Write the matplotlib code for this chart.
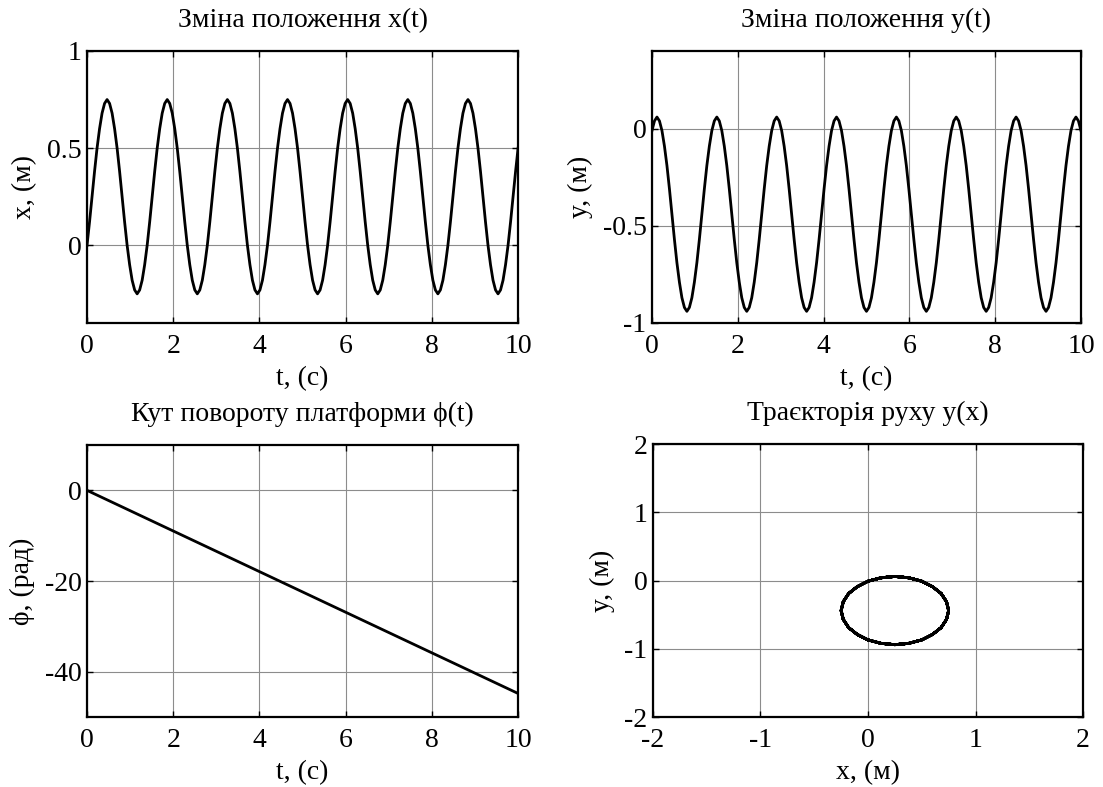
"""Platform motion plots: x(t), y(t), phi(t) and trajectory y(x)."""

import matplotlib
import matplotlib.pyplot as plt
import numpy as np

matplotlib.use("Agg")

plt.rcParams["font.family"] = ["Liberation Serif", "DejaVu Serif"]

# time grid: 173 samples over 0..10 s
t = np.linspace(0, 10, 173)

# x(t), m  (one row per oscillation)
x_vals = [
    0.0, 0.12, 0.25, 0.38, 0.5, 0.60, 0.68, 0.73, 0.75, 0.73, 0.68, 0.60,
    0.5, 0.38, 0.25, 0.12, 0.0, -0.10, -0.18, -0.23, -0.25, -0.23, -0.18, -0.10,
    0.0, 0.12, 0.25, 0.38, 0.5, 0.60, 0.68, 0.73, 0.75, 0.73, 0.68, 0.60,
    0.5, 0.38, 0.25, 0.12, 0.0, -0.10, -0.18, -0.23, -0.25, -0.23, -0.18, -0.10,
    0.0, 0.12, 0.25, 0.38, 0.5, 0.60, 0.68, 0.73, 0.75, 0.73, 0.68, 0.60,
    0.5, 0.38, 0.25, 0.12, 0.0, -0.10, -0.18, -0.23, -0.25, -0.23, -0.18, -0.10,
    0.0, 0.12, 0.25, 0.38, 0.5, 0.60, 0.68, 0.73, 0.75, 0.73, 0.68, 0.60,
    0.5, 0.38, 0.25, 0.12, 0.0, -0.10, -0.18, -0.23, -0.25, -0.23, -0.18, -0.10,
    0.0, 0.12, 0.25, 0.38, 0.5, 0.60, 0.68, 0.73, 0.75, 0.73, 0.68, 0.60,
    0.5, 0.38, 0.25, 0.12, 0.0, -0.10, -0.18, -0.23, -0.25, -0.23, -0.18, -0.10,
    0.0, 0.12, 0.25, 0.38, 0.5, 0.60, 0.68, 0.73, 0.75, 0.73, 0.68, 0.60,
    0.5, 0.38, 0.25, 0.12, 0.0, -0.10, -0.18, -0.23, -0.25, -0.23, -0.18, -0.10,
    0.0, 0.12, 0.25, 0.38, 0.5, 0.60, 0.68, 0.73, 0.75, 0.73, 0.68, 0.60,
    0.5, 0.38, 0.25, 0.12, 0.0, -0.10, -0.18, -0.23, -0.25, -0.23, -0.18, -0.10,
    0.0, 0.12, 0.25, 0.38, 0.5,
]

# y(t), m
y_vals = [
    -0.01, 0.04, 0.06, 0.04, -0.01, -0.09, -0.19, -0.31, -0.44, -0.57, -0.69, -0.79,
    -0.87, -0.92, -0.94, -0.92, -0.87, -0.79, -0.69, -0.57, -0.44, -0.31, -0.19, -0.09,
    -0.01, 0.04, 0.06, 0.04, -0.01, -0.09, -0.19, -0.31, -0.44, -0.57, -0.69, -0.79,
    -0.87, -0.92, -0.94, -0.92, -0.87, -0.79, -0.69, -0.57, -0.44, -0.31, -0.19, -0.09,
    -0.01, 0.04, 0.06, 0.04, -0.01, -0.09, -0.19, -0.31, -0.44, -0.57, -0.69, -0.79,
    -0.87, -0.92, -0.94, -0.92, -0.87, -0.79, -0.69, -0.57, -0.44, -0.31, -0.19, -0.09,
    -0.01, 0.04, 0.06, 0.04, -0.01, -0.09, -0.19, -0.31, -0.44, -0.57, -0.69, -0.79,
    -0.87, -0.92, -0.94, -0.92, -0.87, -0.79, -0.69, -0.57, -0.44, -0.31, -0.19, -0.09,
    -0.01, 0.04, 0.06, 0.04, -0.01, -0.09, -0.19, -0.31, -0.44, -0.57, -0.69, -0.79,
    -0.87, -0.92, -0.94, -0.92, -0.87, -0.79, -0.69, -0.57, -0.44, -0.31, -0.19, -0.09,
    -0.01, 0.04, 0.06, 0.04, -0.01, -0.09, -0.19, -0.31, -0.44, -0.57, -0.69, -0.79,
    -0.87, -0.92, -0.94, -0.92, -0.87, -0.79, -0.69, -0.57, -0.44, -0.31, -0.19, -0.09,
    -0.01, 0.04, 0.06, 0.04, -0.01, -0.09, -0.19, -0.31, -0.44, -0.57, -0.69, -0.79,
    -0.87, -0.92, -0.94, -0.92, -0.87, -0.79, -0.69, -0.57, -0.44, -0.31, -0.19, -0.09,
    -0.01, 0.04, 0.06, 0.04, -0.01,
]

# phi(t), rad  (straight line, lower-left plot)
phi_t = [0, 10]
phi_vals = [0.0, -44.8]

t_ticks = [0, 2, 4, 6, 8, 10]

TICK_FS = 20
LABEL_FS = 20


def style_axes(ax, xlim, ylim, xticks, yticks, ytick_labels=None):
    """MATLAB-like look: boxed axes, inward ticks on all sides, grey grid."""
    ax.set_xlim(*xlim)
    ax.set_ylim(*ylim)
    ax.set_xticks(xticks)
    ax.set_yticks(yticks)
    if ytick_labels is not None:
        ax.set_yticklabels(ytick_labels)
    ax.grid(True, color="#8c8c8c", linewidth=0.8)
    ax.set_axisbelow(True)
    ax.tick_params(direction="in", top=True, right=True, length=4,
                   width=1, labelsize=TICK_FS)
    ax.tick_params(axis="x", pad=8)
    ax.tick_params(axis="y", pad=4)
    for sp in ax.spines.values():
        sp.set_linewidth(1.6)
        sp.set_color("black")


def label_axes(ax, title, xlabel, ylabel):
    ax.set_title(title, fontsize=LABEL_FS, pad=17)
    ax.set_xlabel(xlabel, fontsize=LABEL_FS, labelpad=5)
    ax.set_ylabel(ylabel, fontsize=LABEL_FS, labelpad=7)


fig = plt.figure(figsize=(11.03, 7.87), dpi=100)

ax1 = fig.add_axes([0.0789, 0.5896, 0.3908, 0.3456])
ax2 = fig.add_axes([0.5911, 0.5896, 0.3889, 0.3456])
ax3 = fig.add_axes([0.0789, 0.0889, 0.3908, 0.3456])
ax4 = fig.add_axes([0.5920, 0.0889, 0.3899, 0.3469])

lw = 2.0

ax1.plot(t, x_vals, color="black", linewidth=lw)
style_axes(ax1, (0, 10), (-0.4, 1), t_ticks, [0, 0.5, 1], ["0", "0.5", "1"])
label_axes(ax1, "Зміна положення x(t)", "t, (c)", "x, (м)")

ax2.plot(t, y_vals, color="black", linewidth=lw)
style_axes(ax2, (0, 10), (-1, 0.4), t_ticks, [-1, -0.5, 0], ["-1", "-0.5", "0"])
label_axes(ax2, "Зміна положення y(t)", "t, (c)", "y, (м)")

ax3.plot(phi_t, phi_vals, color="black", linewidth=lw)
style_axes(ax3, (0, 10), (-50, 10), t_ticks, [-40, -20, 0], ["-40", "-20", "0"])
label_axes(ax3, "Кут повороту платформи ϕ(t)", "t, (c)", "ϕ, (рад)")

ax4.plot(x_vals, y_vals, color="black", linewidth=lw)
style_axes(ax4, (-2, 2), (-2, 2), [-2, -1, 0, 1, 2], [-2, -1, 0, 1, 2],
           ["-2", "-1", "0", "1", "2"])
ax4.set_xticklabels(["-2", "-1", "0", "1", "2"])
label_axes(ax4, "Траєкторія руху y(x)", "x, (м)", "y, (м)")

fig.savefig("out.png", dpi=100)
